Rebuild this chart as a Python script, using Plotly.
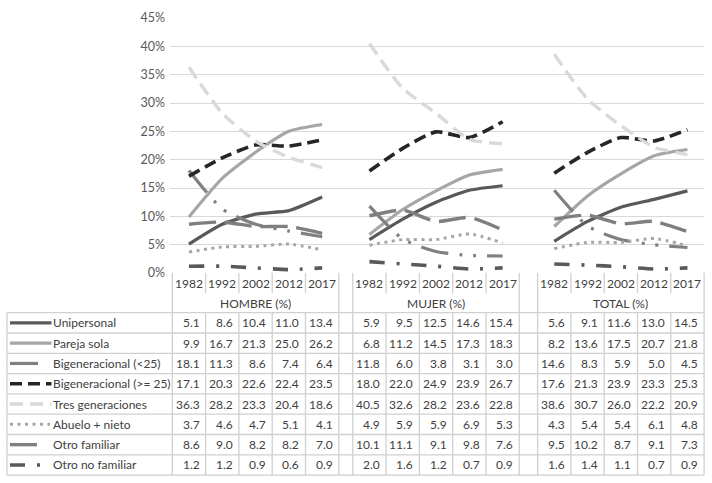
import plotly.graph_objects as go

# ---------------- data ----------------
years = ["1982", "1992", "2002", "2012", "2017"]
groups = ["HOMBRE (%)", "MUJER (%)", "TOTAL (%)"]
series_names = ["Unipersonal", "Pareja sola", "Bigeneracional (<25)", "Bigeneracional (>= 25)",
                "Tres generaciones", "Abuelo + nieto", "Otro familiar", "Otro no familiar"]

unipersonal_h = [5.1, 8.6, 10.4, 11.0, 13.4]
unipersonal_m = [5.9, 9.5, 12.5, 14.6, 15.4]
unipersonal_t = [5.6, 9.1, 11.6, 13.0, 14.5]

pareja_h = [9.9, 16.7, 21.3, 25.0, 26.2]
pareja_m = [6.8, 11.2, 14.5, 17.3, 18.3]
pareja_t = [8.2, 13.6, 17.5, 20.7, 21.8]

bigen_lt25_h = [18.1, 11.3, 8.6, 7.4, 6.4]
bigen_lt25_m = [11.8, 6.0, 3.8, 3.1, 3.0]
bigen_lt25_t = [14.6, 8.3, 5.9, 5.0, 4.5]

bigen_ge25_h = [17.1, 20.3, 22.6, 22.4, 23.5]
bigen_ge25_m = [18.0, 22.0, 24.9, 23.9, 26.7]
bigen_ge25_t = [17.6, 21.3, 23.9, 23.3, 25.3]

tres_h = [36.3, 28.2, 23.3, 20.4, 18.6]
tres_m = [40.5, 32.6, 28.2, 23.6, 22.8]
tres_t = [38.6, 30.7, 26.0, 22.2, 20.9]

abuelo_h = [3.7, 4.6, 4.7, 5.1, 4.1]
abuelo_m = [4.9, 5.9, 5.9, 6.9, 5.3]
abuelo_t = [4.3, 5.4, 5.4, 6.1, 4.8]

otro_fam_h = [8.6, 9.0, 8.2, 8.2, 7.0]
otro_fam_m = [10.1, 11.1, 9.1, 9.8, 7.6]
otro_fam_t = [9.5, 10.2, 8.7, 9.1, 7.3]

otro_nofam_h = [1.2, 1.2, 0.9, 0.6, 0.9]
otro_nofam_m = [2.0, 1.6, 1.2, 0.7, 0.9]
otro_nofam_t = [1.6, 1.4, 1.1, 0.7, 0.9]

y_ticks = [0, 5, 10, 15, 20, 25, 30, 35, 40, 45]

series_values = [
    [unipersonal_h, unipersonal_m, unipersonal_t],
    [pareja_h, pareja_m, pareja_t],
    [bigen_lt25_h, bigen_lt25_m, bigen_lt25_t],
    [bigen_ge25_h, bigen_ge25_m, bigen_ge25_t],
    [tres_h, tres_m, tres_t],
    [abuelo_h, abuelo_m, abuelo_t],
    [otro_fam_h, otro_fam_m, otro_fam_t],
    [otro_nofam_h, otro_nofam_m, otro_nofam_t],
]

# ---------------- styles ----------------
styles = [
    dict(color="#595959", width=3.2, dash="solid", key_end=51.5),
    dict(color="#a6a6a6", width=3.2, dash="solid", key_end=51.5),
    dict(color="#808080", width=3.2, dash="28px,11px,3px,11px,3px,11px", key_end=41),
    dict(color="#262626", width=3.6, dash="12px,6px", key_end=51.5),
    dict(color="#d9d9d9", width=3.4, dash="13px,7px", key_end=51.5),
    dict(color="#a6a6a6", width=3.0, dash="3px,4.5px", key_end=50),
    dict(color="#7f7f7f", width=3.4, dash="27px,9px", key_end=41),
    dict(color="#595959", width=3.6, dash="15px,12px,3px,12px", key_end=41),
]

FONT = "Lato, Roboto, sans-serif"
FS = 12
TXT = "#404040"
BORDER = "#d0d0d0"

W, H = 712, 483
L, R, T, B = 170, 8, 18, 210
group_starts = [0.0, 5.42, 10.97]   # left edge of each group in column units
xr0, xr1 = -0.069, 15.967

def xp(u):  # axis units -> paper
    return (u - xr0) / (xr1 - xr0)

def xpx(px):  # pixel -> paper
    return (px - L) / (W - L - R)

def ypx(py):  # pixel -> paper
    return (H - B - py) / (H - T - B)

fig = go.Figure()
for name, vals, st in zip(series_names, series_values, styles):
    xs, ys = [], []
    for g, gv in enumerate(vals):
        for i, v in enumerate(gv):
            xs.append(group_starts[g] + i + 0.5)
            ys.append(v)
        xs.append(None)
        ys.append(None)
    fig.add_trace(go.Scatter(x=xs, y=ys, mode="lines", name=name,
                             line=dict(color=st["color"], width=st["width"], dash=st["dash"],
                                       shape="spline", smoothing=0.6),
                             connectgaps=False, hoverinfo="skip", showlegend=False))

shapes = []
annotations = []

def hline(y0px, x0, x1):
    shapes.append(dict(type="line", xref="paper", yref="paper", x0=x0, x1=x1,
                       y0=ypx(y0px), y1=ypx(y0px), line=dict(color=BORDER, width=1.3)))

def vline(x, y0px, y1px):
    shapes.append(dict(type="line", xref="paper", yref="paper", x0=x, x1=x,
                       y0=ypx(y0px), y1=ypx(y1px), line=dict(color=BORDER, width=1.3)))

top_px = 272.8
year_row_bottom = 293.0
rows_top = 312.7
row_h = 20.3
n_rows = len(series_names)
bottom_px = rows_top + row_h * n_rows
label_left_px = 7.0
cell_pad = 4.0 / (W - L - R)

for k in range(n_rows + 1):
    hline(rows_top + k * row_h, xpx(label_left_px), xp(group_starts[-1] + 5))
vline(xpx(label_left_px), rows_top, bottom_px)

for g, gs in enumerate(group_starts):
    vline(xp(gs), top_px, bottom_px)
    vline(xp(gs + 5), top_px, bottom_px)
    for i in range(1, 5):
        vline(xp(gs + i), top_px, year_row_bottom)
        vline(xp(gs + i), rows_top, bottom_px)
    for i, yr in enumerate(years):
        annotations.append(dict(x=xp(gs + i + 0.5), y=ypx(283.5), xref="paper", yref="paper",
                                text=yr, showarrow=False, xanchor="center", yanchor="middle",
                                font=dict(family=FONT, size=FS, color=TXT)))
    annotations.append(dict(x=xp(gs + 2.5), y=ypx(303.5), xref="paper", yref="paper",
                            text=groups[g], showarrow=False, xanchor="center", yanchor="middle",
                            font=dict(family=FONT, size=FS, color=TXT)))
    for r, vals in enumerate(series_values):
        for i, v in enumerate(vals[g]):
            annotations.append(dict(x=xp(gs + i + 1) - cell_pad,
                                    y=ypx(rows_top + (r + 0.5) * row_h), xref="paper", yref="paper",
                                    text=f"{v:.1f}", showarrow=False, xanchor="right", yanchor="middle",
                                    font=dict(family=FONT, size=FS, color=TXT)))

for r, (name, st) in enumerate(zip(series_names, styles)):
    yc = rows_top + (r + 0.5) * row_h
    shapes.append(dict(type="line", xref="paper", yref="paper", x0=xpx(10), x1=xpx(st["key_end"]),
                       y0=ypx(yc), y1=ypx(yc),
                       line=dict(color=st["color"], width=st["width"], dash=st["dash"])))
    annotations.append(dict(x=xpx(51), y=ypx(yc), xref="paper", yref="paper", text=name,
                            showarrow=False, xanchor="left", yanchor="middle",
                            font=dict(family=FONT, size=FS, color=TXT)))

fig.update_layout(
    width=W, height=H,
    margin=dict(l=L, r=R, t=T, b=B),
    plot_bgcolor="white", paper_bgcolor="white",
    shapes=shapes, annotations=annotations,
    xaxis=dict(range=[xr0, xr1], showgrid=False, zeroline=False, showticklabels=False,
               showline=False, fixedrange=True),
    yaxis=dict(range=[0, 45], tickvals=y_ticks, ticktext=[f"{v}%" for v in y_ticks],
               showgrid=True, gridcolor="#d9d9d9", gridwidth=1.3, zeroline=False, showline=False,
               tickfont=dict(family=FONT, size=12.5, color="#595959"), ticklabelstandoff=4,
               fixedrange=True),
    font=dict(family=FONT),
)

fig.write_html("out.html", config=dict(displayModeBar=False),
               post_script="document.body.style.margin='0';document.body.style.padding='0';")
